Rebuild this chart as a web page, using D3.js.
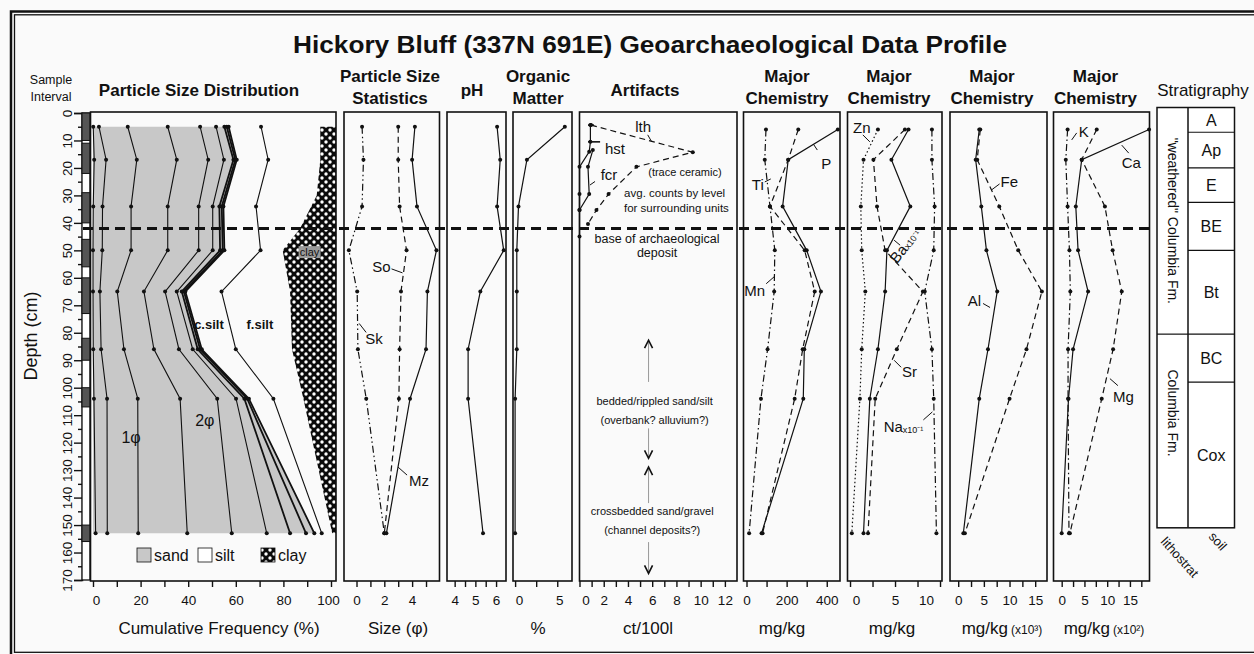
<!DOCTYPE html>
<html>
<head>
<meta charset="utf-8">
<script src="https://cdn.jsdelivr.net/npm/d3@7"></script>
<style>
  body { margin: 0; background: #fafafa; }
  svg { display: block; }
  text { font-family: "Liberation Sans", Arial, sans-serif; fill: #111; }
</style>
</head>
<body>
<svg id="chart" width="1254" height="654"></svg>
<script>
// ---------------- data ----------------
const sampleTop    = [0, 11, 29, 46, 60, 82, 100, 150];
const sampleBottom = [10, 22, 40, 56, 73, 90, 107, 156];
const archBase = 42;

// particle size distribution, cumulative %
const psdDepths = [5, 17, 34, 50, 65, 86, 104, 153];
const psdSandLines = [
  [0.1, 0.5, 0.1, 0, 0, 0.1, 0.4, 1.1],
  [2.5, 5.5, 4, 3.9, 2.9, 3.4, 5.9, 6],
  [14.6, 18.4, 16, 16, 10.2, 13, 18.8, 19],
  [31.4, 35.2, 31.4, 31.4, 21.4, 25.6, 36.6, 39.6],
  [45, 48.4, 44.4, 44.4, 30.3, 36.1, 52.2, 58.3],
  [51.7, 55, 50.3, 50.3, 35.2, 41.9, 60.1, 73]
];
const psdBandLines = [
  [55.2, 59, 53.1, 53.4, 37.3, 44, 63.6, 82.8],
  [56.2, 59.8, 54.1, 54.5, 38.2, 45, 64.8, 89.5],
  [57, 60.4, 54.8, 55.2, 38.8, 45.7, 65.5, 93]
];
const psdFineSilt = [70.6, 73.6, 68.5, 70.4, 54, 60, 75.8, 96.1];
const clayDepths = [5, 17, 30, 42, 50, 65, 86, 104, 153];
const clayLine   = [95.5, 95.5, 94, 87, 79.7, 82.8, 83.6, 88.4, 100.5];

// particle size statistics (phi)
const statDepths = [5, 17, 34, 50, 65, 86, 104, 153];
const statSk = [0.4, 0.5, 0.4, -0.55, 0.05, 0.1, 0.7, 2.0];
const statSo = [3.0, 3.0, 3.1, 3.6, 3.2, 3.1, 3.05, 2.0];
const statMz = [4.2, 4.0, 4.35, 5.75, 5.1, 5.0, 3.85, 2.15];

const phValues = [6.05, 6.2, 6.05, 6.37, 5.24, 4.65, 4.65, 5.37];
const omValues = [5.9, 1.4, 0.4, 0.2, 0.2, 0.2, 0, 0];

// artifacts (ct/100l)
const avgDepths = [4.4, 14.3, 19.6, 29.5, 35.3, 40.4];
const avgCounts = [0.95, 9.35, 4.7, 2.4, 1.4, 0.7];
const hstDepths = [4.4, 10.5, 14.1, 19.6, 29.5, 35.3, 45];
const hstCounts = [0.9, 0.9, 0.8, 0, 0, 0, 0];
const hstCaps   = [[4.4, 0.7, 1.2], [10.5, 0.7, 1.7]];
const fcrDepths = [13.5, 19.6, 29.5, 35.3];
const fcrCounts = [1.1, 0.7, 0.8, 0];

// major chemistry
const chemDepths = [6, 17, 34, 50, 65, 86, 104, 153];
const chemP  = [455, 208, 180, 300, 371, 288, 283, 75];
const chemTi = [258, 208, 117, 290, 340, 280, 240, 80];
const chemMn = [97, 91, 117, 141, 138, 105, 72, 13];
const chemZn = [3.1, 1.5, 1.2, 1.3, 1.7, 1.3, 1.1, 0.2];
const chemBa = [6.5, 4.6, 6.7, 4.1, 3.9, 3.1, 2.2, 1.5];
const chemSr = [6.1, 2.6, 3.0, 3.9, 8.1, 5.2, 2.8, 2.0];
const chemNa = [9.1, 9.1, 9.4, 9.3, 8.3, 9.1, 9.3, 9.6];
const chemAl = [4.1, 3.4, 4.5, 5.5, 7.6, 5.8, 4.1, 1.0];
const chemFe = [4.3, 3.7, 8.0, 11.7, 16.3, 13.3, 10.0, 1.3];
const chemK  = [1.3, 0.9, 1.3, 1.7, 1.9, 1.4, 1.4, 1.6];
const chemCa = [19.2, 4.4, 3.1, 3.6, 5.8, 2.5, 1.5, 0];
const chemMg = [7.7, 4.4, 9.5, 11.2, 13.2, 11.3, 8.8, 1.8];

// stratigraphy
const horizons   = ["A", "Ap", "E", "BE", "Bt", "BC", "Cox"];
const horizonTop = [-2, 7, 20, 32.5, 50, 80.5, 98];
const stratBottom = 151;
const lithoUnits = ['"weathered" Columbia Fm.', "Columbia Fm."];
const lithoTop   = [-2, 80.5];

// ---------------- layout ----------------
const svg = d3.select("#chart");
const ink = "#111";
const y = d3.scaleLinear().domain([0, 170]).range([113, 580]);
const panelTop = 112, panelBottom = 581;

const xPsd  = d3.scaleLinear().domain([-1.05, 102.1]).range([90.5, 336]);
const xStat = d3.scaleLinear().domain([-0.9, 5.97]).range([344, 439.5]);
const xPh   = d3.scaleLinear().domain([3.63, 6.48]).range([447, 506]);
const xOm   = d3.scaleLinear().domain([-0.25, 6.75]).range([513, 572]);
const xArt  = d3.scaleLinear().domain([0, 13]).range([579.5, 737]);
const xC1   = d3.scaleLinear().domain([-15, 466]).range([743.5, 840]);
const xC2   = d3.scaleLinear().domain([-0.28, 10.22]).range([847.5, 942]);
const xC3   = d3.scaleLinear().domain([-1.6, 17.3]).range([950, 1047]);
const xC4   = d3.scaleLinear().domain([-1.8, 19.3]).range([1053.5, 1149.5]);

svg.append("rect").attr("width", 1254).attr("height", 654).attr("fill", "#fafafa");

// double frame
svg.append("rect").attr("x", 11).attr("y", 11.5).attr("width", 1260).attr("height", 660)
  .attr("fill", "none").attr("stroke", ink).attr("stroke-width", 2.5);
svg.append("rect").attr("x", 14.5).attr("y", 14.8).attr("width", 1250).attr("height", 637.5)
  .attr("fill", "none").attr("stroke", ink).attr("stroke-width", 1.3);

const defs = svg.append("defs");
const pat = defs.append("pattern").attr("id", "clayPat").attr("patternUnits", "userSpaceOnUse")
  .attr("width", 8).attr("height", 8);
pat.append("rect").attr("width", 8).attr("height", 8).attr("fill", "#0a0a0a");
[[2, 2], [6, 6]].forEach(c => pat.append("circle").attr("cx", c[0]).attr("cy", c[1]).attr("r", 1.7).attr("fill", "#fff"));

// title
svg.append("text").attr("x", 650).attr("y", 53).attr("text-anchor", "middle")
  .attr("font-size", 24).attr("font-weight", "bold")
  .attr("textLength", 714).attr("lengthAdjust", "spacingAndGlyphs")
  .text("Hickory Bluff (337N 691E) Geoarchaeological Data Profile");

// headers
function header(lines, x, bold = true, size = 17) {
  const base = lines.length === 1 ? [96] : [82, 104];
  lines.forEach((t, i) => svg.append("text").attr("x", x).attr("y", base[i])
    .attr("text-anchor", "middle").attr("font-size", size).attr("font-weight", bold ? "bold" : "normal").text(t));
}
svg.append("text").attr("x", 51).attr("y", 84).attr("text-anchor", "middle").attr("font-size", 12.5).text("Sample");
svg.append("text").attr("x", 51).attr("y", 101).attr("text-anchor", "middle").attr("font-size", 12.5).text("Interval");
header(["Particle Size Distribution"], 199);
header(["Particle Size", "Statistics"], 390);
header(["pH"], 472);
header(["Organic", "Matter"], 538);
header(["Artifacts"], 645);
[787, 889, 992, 1095.5].forEach(x => header(["Major", "Chemistry"], x));
header(["Stratigraphy"], 1203, false, 17);

// ---------------- helpers ----------------
const line = d3.line();
function series(x, depths, vals, dash, opts = {}) {
  const pts = depths.map((d, i) => [x(vals[i]), y(d)]);
  svg.append("path").attr("d", line(pts)).attr("fill", "none").attr("stroke", ink)
    .attr("stroke-width", opts.w || 1.2).attr("stroke-dasharray", dash || null);
  if (opts.dots !== false)
    svg.append("g").selectAll("circle").data(pts).join("circle")
      .attr("cx", d => d[0]).attr("cy", d => d[1]).attr("r", opts.r || 2).attr("fill", ink);
}
function frame(x) {
  const [x0, x1] = x.range();
  svg.append("rect").attr("x", x0).attr("y", panelTop).attr("width", x1 - x0)
    .attr("height", panelBottom - panelTop).attr("fill", "none").attr("stroke", ink).attr("stroke-width", 1.6);
}
// nudge: shift for the first / last label so they clear the panel edges
function bottomAxis(x, ticks, labels, nudge = [0, 0]) {
  const g = svg.append("g").attr("transform", `translate(0,${panelBottom})`)
    .call(d3.axisBottom(x).tickValues(ticks).tickSize(6).tickPadding(8)
      .tickFormat(d => labels.includes(d) ? d : ""));
  g.select(".domain").remove();
  g.selectAll("line").attr("stroke", ink).attr("stroke-width", 1.4);
  g.selectAll("text").attr("font-size", 13.5).attr("font-family", "Liberation Sans, Arial, sans-serif").attr("fill", ink)
    .attr("dx", d => d === labels[0] ? nudge[0] : d === labels[labels.length - 1] ? nudge[1] : 0);
}
function unitLabel(x, t, sup) {
  const tx = svg.append("text").attr("x", x).attr("y", 634).attr("text-anchor", "middle").attr("font-size", 17).text(t);
  if (sup) tx.append("tspan").attr("font-size", 12).attr("dx", 3).text(sup);
}
function leader(x, v, d, lx, ly) {
  svg.append("line").attr("x1", x(v)).attr("y1", y(d)).attr("x2", x(v) + lx).attr("y2", y(d) + ly)
    .attr("stroke", ink).attr("stroke-width", 1);
}
function note(x, v, d, lx, ly, tx, ty, t, anchor, sub) {
  leader(x, v, d, lx, ly);
  const el = svg.append("text").attr("x", x(v) + tx).attr("y", y(d) + ty).attr("text-anchor", anchor || "start")
    .attr("font-size", 15).text(t);
  if (sub) el.append("tspan").attr("font-size", 9).attr("dy", 1).text(sub);
  return el;
}

// ---------------- depth axis & sample intervals ----------------
const yAxis = svg.append("g").attr("transform", "translate(82,0)")
  .call(d3.axisLeft(y).tickValues(d3.range(0, 171, 5)).tickSize(8)
    .tickFormat(d => d % 10 === 0 ? d : ""));
yAxis.select(".domain").attr("stroke", ink).attr("stroke-width", 1.5);
yAxis.selectAll(".tick line").attr("stroke", ink).attr("stroke-width", 1.4)
  .attr("x2", d => d % 10 === 0 ? -8 : -4);
yAxis.selectAll(".tick text").attr("transform", "rotate(-90)").attr("x", 0).attr("y", -10)
  .attr("dy", 0).attr("text-anchor", "middle").attr("font-size", 13.5)
  .attr("font-family", "Liberation Sans, Arial, sans-serif").attr("fill", ink);
svg.append("rect").attr("x", 82).attr("y", y(0)).attr("width", 8).attr("height", y(170) - y(0))
  .attr("fill", "#fff").attr("stroke", ink).attr("stroke-width", 1.3);
svg.append("g").selectAll("rect").data(sampleTop).join("rect")
  .attr("x", 82).attr("width", 8).attr("y", d => y(d))
  .attr("height", (d, i) => y(sampleBottom[i]) - y(d))
  .attr("fill", "#555").attr("stroke", ink).attr("stroke-width", 1);
svg.append("text").attr("transform", "translate(37,336) rotate(-90)").attr("text-anchor", "middle")
  .attr("font-size", 18).text("Depth (cm)");

// ---------------- particle size distribution ----------------
const band = psdBandLines[psdBandLines.length - 1];
svg.append("path").attr("fill", "#c8c8c8")
  .attr("d", d3.area().x0(xPsd(0)).x1((d, i) => xPsd(band[i])).y(d => y(d))(psdDepths));
svg.append("path").attr("fill", "url(#clayPat)")
  .attr("d", d3.area().x0((d, i) => xPsd(clayLine[i])).x1(xPsd(102.1)).y(d => y(d))(clayDepths));
psdSandLines.forEach(v => series(xPsd, psdDepths, v, null, { w: 1.1 }));
psdBandLines.forEach(v => series(xPsd, psdDepths, v, null, { w: 1.8 }));
series(xPsd, psdDepths, psdFineSilt, null, { w: 1.1 });
frame(xPsd);
bottomAxis(xPsd, d3.range(0, 101, 10), [0, 20, 40, 60, 80, 100], [3, -3]);
unitLabel(219, "Cumulative Frequency (%)");
[["1\u03C6", 16, 120], ["2\u03C6", 47, 114]].forEach(l =>
  svg.append("text").attr("x", xPsd(l[1])).attr("y", y(l[2])).attr("text-anchor", "middle").attr("font-size", 16).text(l[0]));
svg.append("text").attr("x", xPsd(42.5)).attr("y", y(78.5)).attr("font-size", 13).attr("font-weight", "bold").text("c.silt");
svg.append("text").attr("x", xPsd(64.5)).attr("y", y(78.5)).attr("font-size", 13).attr("font-weight", "bold").text("f.silt");
svg.append("rect").attr("x", xPsd(91) - 11).attr("y", y(51) - 7).attr("width", 22).attr("height", 12).attr("fill", "#9a9a9a");
svg.append("text").attr("x", xPsd(91)).attr("y", y(51) + 3).attr("text-anchor", "middle").attr("font-size", 11).attr("fill", "#222").text("clay");
// legend
const legendItems = [["sand", "#c8c8c8", 137], ["silt", "#fff", 198], ["clay", "url(#clayPat)", 261]];
legendItems.forEach(l => {
  svg.append("rect").attr("x", l[2]).attr("y", 548).attr("width", 14).attr("height", 14)
    .attr("fill", l[1]).attr("stroke", ink).attr("stroke-width", 0.8);
  svg.append("text").attr("x", l[2] + 17).attr("y", 561).attr("font-size", 16).text(l[0]);
});

// ---------------- particle size statistics ----------------
series(xStat, statDepths, statSk, "7,3,1.5,3,1.5,3");
series(xStat, statDepths, statSo, "6,4");
series(xStat, statDepths, statMz, null);
frame(xStat);
bottomAxis(xStat, [0, 1, 2, 3, 4, 5], [0, 2, 4]);
unitLabel(398, "Size (\u03C6)");
note(xStat, 3.31, 58.2, -11, -4, -12, -1, "So", "end");
note(xStat, 0.19, 76.6, 7, 9, 6, 21, "Sk");
note(xStat, 2.99, 128.9, 9, 8, 11, 19, "Mz");

// ---------------- pH ----------------
series(xPh, statDepths, phValues, null);
frame(xPh);
bottomAxis(xPh, [4, 4.5, 5, 5.5, 6], [4, 5, 6]);

// ---------------- organic matter ----------------
series(xOm, statDepths, omValues, null);
frame(xOm);
bottomAxis(xOm, [0, 2.5, 5], [0, 5], [4, 2]);
unitLabel(538, "%");

// ---------------- artifacts ----------------
series(xArt, avgDepths, avgCounts, "6,4");
series(xArt, hstDepths, hstCounts, null);
series(xArt, fcrDepths, fcrCounts, null);
hstCaps.forEach(c => svg.append("line").attr("x1", xArt(c[1])).attr("x2", xArt(c[2]))
  .attr("y1", y(c[0])).attr("y2", y(c[0])).attr("stroke", ink).attr("stroke-width", 1.6));
frame(xArt);
bottomAxis(xArt, d3.range(0, 13, 1), [0, 2, 4, 6, 8, 10, 12], [6, 0]);
unitLabel(648, "ct/100l");
const artLabels = [["lth", 4.6, 6.9], ["hst", 2.1, 15], ["fcr", 1.75, 24.4]];
artLabels.forEach(l => svg.append("text").attr("x", xArt(l[1])).attr("y", y(l[2])).attr("font-size", 15).text(l[0]));
leader(xArt, 5.96, 10.5, -4, -7);
leader(xArt, 0.87, 26.2, 5, -3.5);
const artNotes = [
  ["(trace ceramic)", 8.7, 23, 11], ["avg. counts by level", 7.85, 30.6, 11.5],
  ["for surrounding units", 8.0, 36, 11.5], ["base of archaeological", 6.4, 47.4, 12.5],
  ["deposit", 6.4, 52.5, 12.5], ["bedded/rippled sand/silt", 6.2, 106.4, 11],
  ["(overbank? alluvium?)", 6.2, 113.3, 11], ["crossbedded sand/gravel", 6.0, 146.4, 11],
  ["(channel deposits?)", 6.0, 153.4, 11]
];
artNotes.forEach(n => svg.append("text").attr("x", xArt(n[1])).attr("y", y(n[2])).attr("text-anchor", "middle")
  .attr("font-size", n[3]).attr("fill", "#333").text(n[0]));
const arrows = [[97.9, 82.7], [114.8, 125.7], [142, 128.9], [156.2, 167.6]];
arrows.forEach(a => {
  const ax = xArt(5.7), y0 = y(a[0]), y1 = y(a[1]), s = y1 < y0 ? 1 : -1;
  svg.append("line").attr("x1", ax).attr("x2", ax).attr("y1", y0).attr("y2", y1).attr("stroke", "#999").attr("stroke-width", 1);
  svg.append("path").attr("d", `M${ax - 4},${y1 + 8 * s}L${ax},${y1}L${ax + 4},${y1 + 8 * s}`)
    .attr("fill", "none").attr("stroke", ink).attr("stroke-width", 1.6);
});

// ---------------- major chemistry ----------------
series(xC1, chemDepths, chemMn, "7,3,1.5,3");
series(xC1, chemDepths, chemTi, "6,4");
series(xC1, chemDepths, chemP, null);
frame(xC1);
bottomAxis(xC1, [0, 100, 200, 300, 400], [0, 200, 400]);
unitLabel(782, "mg/kg");
note(xC1, 333, 11.3, 4, 6, 8, 25, "P");
note(xC1, 121, 24, -6, 3, -7, 11, "Ti", "end");
note(xC1, 138, 59.6, -8, 7, -9, 19, "Mn", "end");

series(xC2, chemDepths, chemZn, "1.5,2.5");
series(xC2, chemDepths, chemSr, "6,4");
series(xC2, chemDepths, chemBa, null);
series(xC2, chemDepths, chemNa, "7,3,1.5,3");
frame(xC2);
bottomAxis(xC2, [0, 2.5, 5, 7.5, 10], [0, 5, 10], [6, -14]);
unitLabel(892, "mg/kg");
note(xC2, 2.2, 10.5, -7, -7, -8, -9, "Zn", "middle");
leader(xC2, 4.9, 46.3, 6, 5);
svg.append("text").attr("transform", `translate(${xC2(4.9) + 3},${y(46.3) + 24}) rotate(-52)`)
  .attr("font-size", 15).text("Ba").append("tspan").attr("font-size", 9).text("x10\u207B\u00B9");
note(xC2, 4.9, 90, 7, 7, 8, 17, "Sr");
note(xC2, 9.15, 108.8, -9, 8, -9, 20, "Na", "end", "x10\u207B\u00B9");

series(xC3, chemDepths, chemFe, "6,4");
series(xC3, chemDepths, chemAl, null);
frame(xC3);
bottomAxis(xC3, [0, 2.5, 5, 7.5, 10, 12.5, 15], [0, 5, 10, 15]);
unitLabel(1002, "mg/kg", "(x10\u00B3)");
note(xC3, 6.5, 28, 8, -6, 9, -3, "Fe");
note(xC3, 6.2, 70.8, -7, -4, -9, -1, "Al", "end");

series(xC4, chemDepths, chemK, "7,3,1.5,3");
series(xC4, chemDepths, chemMg, "6,4");
series(xC4, chemDepths, chemCa, null);
frame(xC4);
bottomAxis(xC4, [0, 2.5, 5, 7.5, 10, 12.5, 15, 17.5], [0, 5, 10, 15]);
unitLabel(1104, "mg/kg", "(x10\u00B2)");
note(xC4, 2.2, 9.8, 5, -7, 7, -3, "K");
note(xC4, 13.2, 11.7, 7, 8, 0, 23, "Ca");
note(xC4, 10.6, 96.7, 8, 7, 3, 23, "Mg");

// dashed base of archaeological deposit
svg.append("line").attr("x1", 83).attr("x2", 1150).attr("y1", y(archBase)).attr("y2", y(archBase))
  .attr("stroke", ink).attr("stroke-width", 3).attr("stroke-dasharray", "10,6");

// ---------------- stratigraphy ----------------
const lithX = [1157, 1188], soilX = [1188, 1234.5];
const sTop = y(horizonTop[0]), sBot = y(stratBottom);
svg.append("rect").attr("x", lithX[0]).attr("y", sTop).attr("width", soilX[1] - lithX[0]).attr("height", sBot - sTop)
  .attr("fill", "#fff").attr("stroke", ink).attr("stroke-width", 1.5);
svg.append("line").attr("x1", lithX[1]).attr("x2", lithX[1]).attr("y1", sTop).attr("y2", sBot).attr("stroke", ink).attr("stroke-width", 1.5);
horizons.forEach((h, i) => {
  const t = y(horizonTop[i]), b = y(i < horizons.length - 1 ? horizonTop[i + 1] : stratBottom);
  if (i > 0) svg.append("line").attr("x1", soilX[0]).attr("x2", soilX[1]).attr("y1", t).attr("y2", t).attr("stroke", ink).attr("stroke-width", 1.2);
  svg.append("text").attr("x", (soilX[0] + soilX[1]) / 2).attr("y", (t + b) / 2 + 6).attr("text-anchor", "middle")
    .attr("font-size", 16).text(h);
});
lithoUnits.forEach((u, i) => {
  const t = y(lithoTop[i]), b = y(i < lithoUnits.length - 1 ? lithoTop[i + 1] : stratBottom);
  if (i > 0) svg.append("line").attr("x1", lithX[0]).attr("x2", lithX[1]).attr("y1", t).attr("y2", t).attr("stroke", ink).attr("stroke-width", 1.2);
  svg.append("text").attr("transform", `translate(${(lithX[0] + lithX[1]) / 2 - 5},${(t + b) / 2 - (i ? 18 : 0)}) rotate(90)`)
    .attr("text-anchor", "middle").attr("font-size", 14).text(u);
});
svg.append("text").attr("transform", `translate(1160,542) rotate(48)`).attr("font-size", 13).text("lithostrat");
svg.append("text").attr("transform", `translate(1208,537) rotate(48)`).attr("font-size", 13).text("soil");
</script>
</body>
</html>
